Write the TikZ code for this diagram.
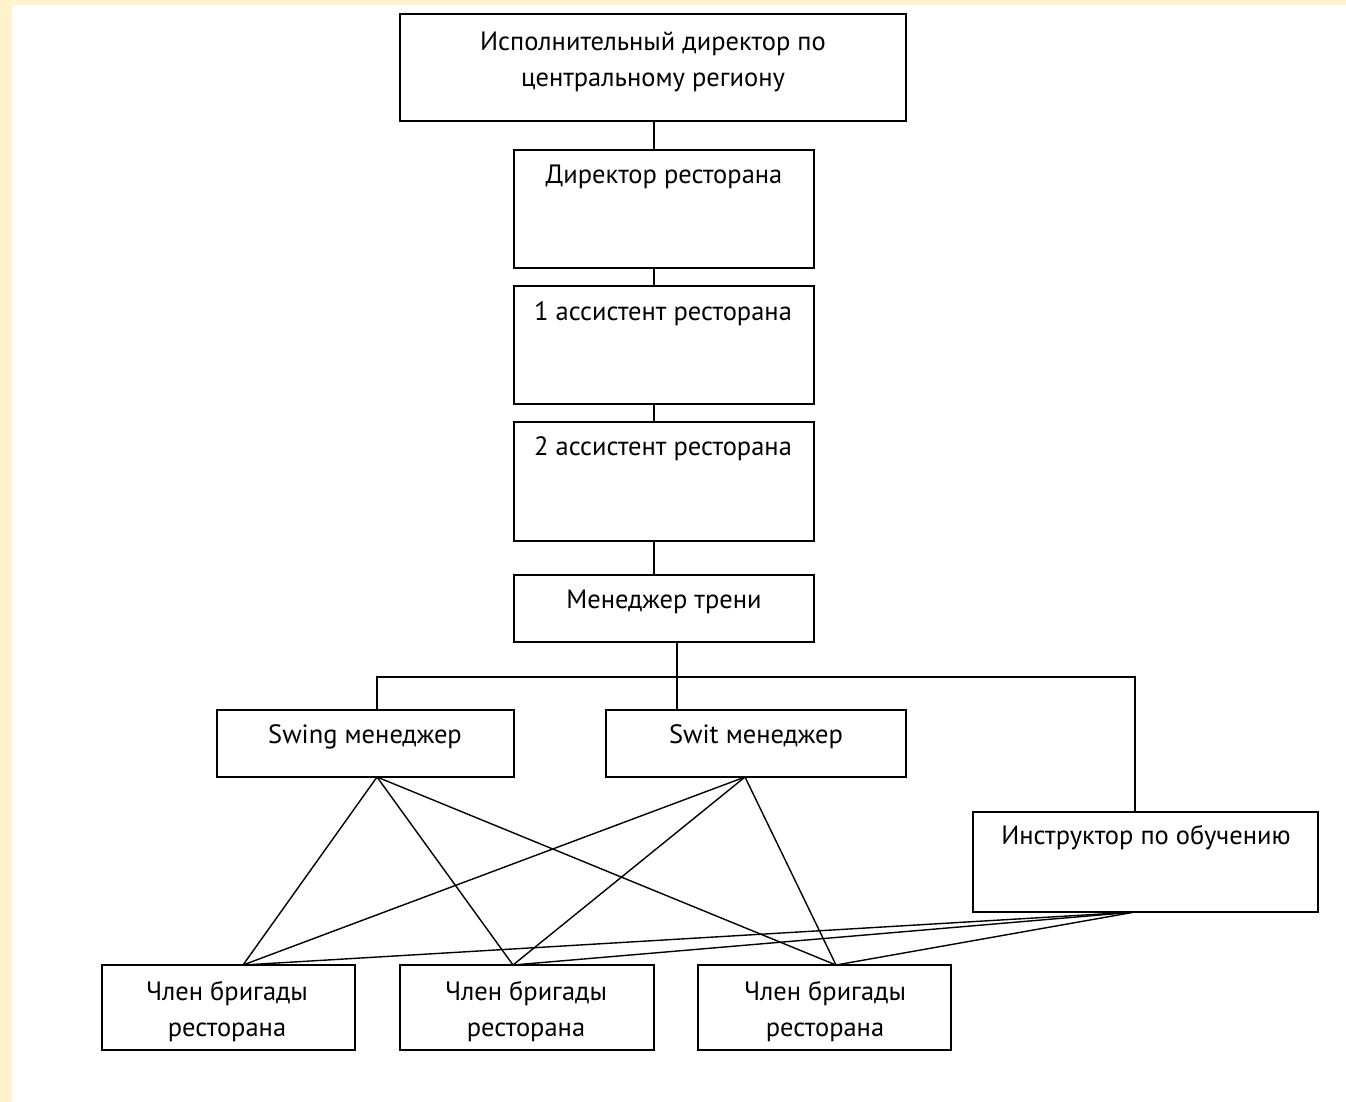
\documentclass[tikz,border=0pt]{standalone}
\usepackage{fontspec}
\setmainfont{PT Sans}
\definecolor{bgyellow}{RGB}{255,242,204}
\begin{document}
\begin{tikzpicture}[x=1pt,y=-1pt,
  box/.style={draw=black, line width=1.8pt, fill=white, inner sep=0pt},
  txt/.style={font=\fontsize{26.5}{36}\selectfont, align=center, inner sep=0pt},
  conn/.style={draw=black, line width=1.4pt}]
\fill[bgyellow] (0,0) rectangle (1346,1102);
\fill[white] (12,5) rectangle (1346,1102);
\useasboundingbox (0,0) rectangle (1346,1102);
% boxes
\node[box, minimum width=506, minimum height=107] (b1) at (653,67.5) {};
\node[box, minimum width=300, minimum height=118] (b2) at (664,209) {};
\node[box, minimum width=300, minimum height=118] (b3) at (664,345) {};
\node[box, minimum width=300, minimum height=119] (b4) at (664,481.5) {};
\node[box, minimum width=300, minimum height=67] (b5) at (664,608.5) {};
\node[box, minimum width=297, minimum height=67] (sw1) at (365.5,743.5) {};
\node[box, minimum width=300, minimum height=67] (sw2) at (756,743.5) {};
\node[box, minimum width=345, minimum height=100] (ins) at (1145.5,862) {};
\node[box, minimum width=253, minimum height=85] (m1) at (228.5,1007.5) {};
\node[box, minimum width=254, minimum height=85] (m2) at (527,1007.5) {};
\node[box, minimum width=253, minimum height=85] (m3) at (824.5,1007.5) {};
% texts
\node[txt] (t1) at (653,62) {Исполнительный директор по\\центральному региону};
\node[txt] (t2) at (664,177) {Директор ресторана};
\node[txt] (t3) at (663,314) {1 ассистент ресторана};
\node[txt] (t4) at (663,449) {2 ассистент ресторана};
\node[txt] (t5) at (664,602) {Менеджер трени};
\node[txt] (t6) at (365,737) {Swing менеджер};
\node[txt] (t7) at (756,737) {Swit менеджер};
\node[txt] (t8) at (1146,838) {Инструктор по обучению};
\node[txt] (t9) at (227,1012) {Член бригады\\ресторана};
\node[txt] (t10) at (526,1012) {Член бригады\\ресторана};
\node[txt] (t11) at (825,1012) {Член бригады\\ресторана};
% vertical chain
\coordinate (vx) at (654,0);
\draw[conn] (vx |- b1.south) -- (vx |- b2.north);
\draw[conn] (vx |- b2.south) -- (vx |- b3.north);
\draw[conn] (vx |- b3.south) -- (vx |- b4.north);
\draw[conn] (vx |- b4.south) -- (vx |- b5.north);
% bus
\coordinate (jx) at (677,677);
\coordinate (barL) at (377,677);
\coordinate (barR) at (1135,677);
\draw[conn] (jx |- b5.south) -- (jx |- sw2.north);
\draw[conn] (barL |- sw1.north) -- (barL) -- (barR) -- (barR |- ins.north);
% cross connections
\coordinate (s1b) at (377,777);
\coordinate (s2b) at (745,777);
\coordinate (ib) at (1135,912);
\coordinate (m1t) at (243,965);
\coordinate (m2t) at (513,965);
\coordinate (m3t) at (836,965);
\foreach \s in {s1b,s2b,ib}{
  \foreach \m in {m1t,m2t,m3t}{
    \draw[conn] (\s) -- (\m);
  }
}
\end{tikzpicture}
\end{document}
